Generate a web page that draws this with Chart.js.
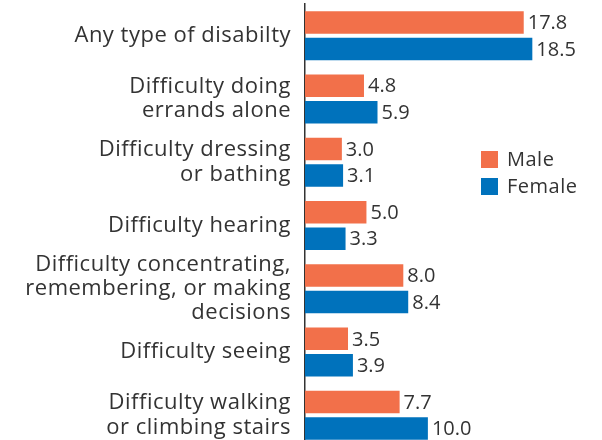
<html><head>
<script src="https://cdn.jsdelivr.net/npm/chart.js"></script>
<title>Disability by sex</title>
<style>
body { margin: 0; background: #fff; }
#wrap { width: 602px; height: 440px; overflow: hidden; position: relative; }
#chart-box { width: 602px; height: 447px; }
</style>
</head>
<body>
<div id="wrap"><div id="chart-box"><canvas id="chart"></canvas></div></div>
<script>
const categories = [
  'Any type of disabilty',
  ['Difficulty doing', 'errands alone'],
  ['Difficulty dressing', 'or bathing'],
  'Difficulty hearing',
  ['Difficulty concentrating,', 'remembering, or making', 'decisions'],
  'Difficulty seeing',
  ['Difficulty walking', 'or climbing stairs']
];
const maleValues = [17.8, 4.8, 3.0, 5.0, 8.0, 3.5, 7.7];
const femaleValues = [18.5, 5.9, 3.1, 3.3, 8.4, 3.9, 10.0];

const textColor = '#333333';
const fontFamily = '"Open Sans", sans-serif';

// wider tracking for the category labels
const tracking = {
  id: 'tracking',
  beforeUpdate(chart) { chart.ctx.letterSpacing = '0.5px'; },
  beforeDraw(chart) { chart.ctx.letterSpacing = '0.5px'; }
};

// value labels at the end of each bar
const barLabels = {
  id: 'barLabels',
  afterDatasetsDraw(chart) {
    const ctx = chart.ctx;
    ctx.save();
    ctx.letterSpacing = '0px';
    ctx.font = '20px ' + fontFamily;
    ctx.fillStyle = textColor;
    ctx.textAlign = 'left';
    ctx.textBaseline = 'middle';
    chart.data.datasets.forEach((ds, i) => {
      chart.getDatasetMeta(i).data.forEach((bar, j) => {
        ctx.fillText(ds.data[j].toFixed(1), bar.x + 4, bar.y + 1);
      });
    });
    ctx.restore();
  }
};

// simple legend on the right
const sideLegend = {
  id: 'sideLegend',
  afterDraw(chart) {
    const ctx = chart.ctx;
    ctx.save();
    ctx.letterSpacing = '0.5px';
    ctx.font = '20px ' + fontFamily;
    ctx.textBaseline = 'middle';
    chart.data.datasets.forEach((ds, i) => {
      const y = 151 + i * 27;
      ctx.fillStyle = ds.backgroundColor;
      ctx.fillRect(481, y, 17, 17);
      ctx.fillStyle = textColor;
      ctx.fillText(ds.label, 507, y + 9);
    });
    ctx.restore();
  }
};

const ctx = document.getElementById('chart').getContext('2d');
new Chart(ctx, {
  type: 'bar',
  data: {
    labels: categories,
    datasets: [{
      label: 'Male',
      data: maleValues,
      backgroundColor: '#F2704A',
      categoryPercentage: 0.837,
      barPercentage: 0.85
    }, {
      label: 'Female',
      data: femaleValues,
      backgroundColor: '#0072BC',
      categoryPercentage: 0.837,
      barPercentage: 0.85
    }]
  },
  options: {
    indexAxis: 'y',
    responsive: true,
    maintainAspectRatio: false,
    animation: false,
    layout: { padding: { top: 4, right: 7, left: 0, bottom: 0 } },
    plugins: {
      legend: { display: false },
      tooltip: { enabled: false }
    },
    scales: {
      x: {
        display: false,
        min: 0,
        max: 23.6
      },
      y: {
        afterFit(axis) {
          axis.width = 305;
          axis.paddingTop = 0;
          axis.paddingBottom = 0;
        },
        grid: { display: false, drawTicks: false },
        border: { display: true, color: '#333333', width: 1.5 },
        ticks: {
          autoSkip: false,
          color: textColor,
          padding: 14,
          font: { family: fontFamily, size: 22, lineHeight: 1.11 }
        }
      }
    }
  },
  plugins: [tracking, barLabels, sideLegend]
});
</script>
</body></html>
